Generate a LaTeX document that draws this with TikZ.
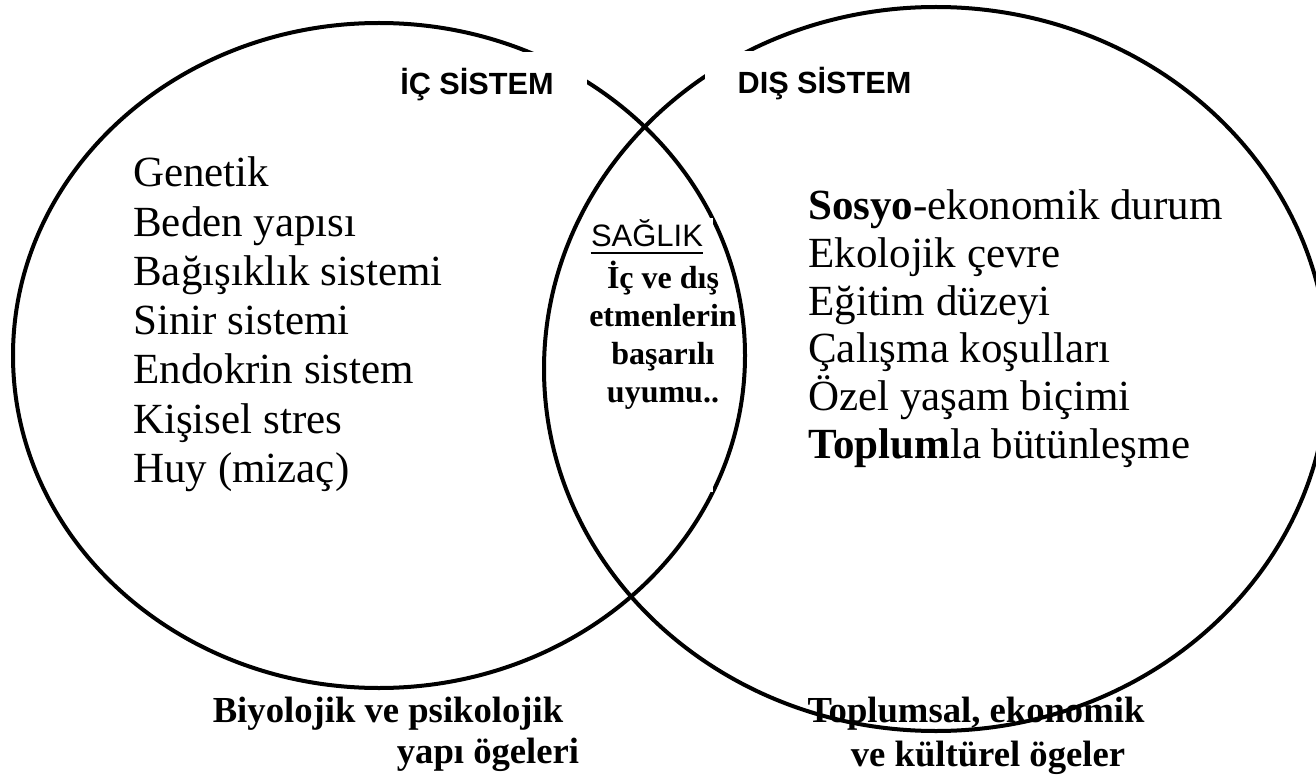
\documentclass[tikz,border=0pt]{standalone}
\usepackage{fontspec}
\setmainfont{Liberation Serif}
\setsansfont{Liberation Sans}
\usepackage{tikz}
\usetikzlibrary{calc}
\tikzset{
	venn line/.style={line width=3pt}
}
\tikzstyle{header}=[font=\sffamily\bfseries\fontsize{23}{23}\selectfont, fill=white, inner sep=0pt, minimum height=49.5pt]
\tikzstyle{itemtext}=[font=\fontsize{32.25}{32.25}\selectfont, inner sep=0pt, anchor=base west]
\tikzstyle{midtext}=[font=\bfseries\fontsize{24}{24}\selectfont, inner sep=0pt, anchor=base]
\tikzstyle{foottext}=[font=\bfseries\fontsize{27.5}{27.5}\selectfont, inner sep=0pt, anchor=base]

\begin{document}
\begin{tikzpicture}[x=0.75pt, y=-0.75pt]
	\useasboundingbox (0,0) rectangle (1316,777);
	% the two systems
	\draw[venn line] (379,355.5) ellipse (366 and 332.5);
	\draw[venn line] (936,369) ellipse (392 and 362);
	\fill[white] (582,218) rectangle (713,492);
	\node[header, minimum width=165pt] (ic) at (477,85) {İÇ SİSTEM};
	\node[header, minimum width=179.25pt] (dis) at (824.5,84) {DIŞ SİSTEM};
	% inner factors
	\foreach \txt [count=\i] in {Genetik, {Beden yapısı}, {Bağışıklık sistemi}, {Sinir sistemi}, {Endokrin sistem}, {Kişisel stres}, {Huy (mizaç)}}
		\node[itemtext] (icitem\i) at (133, {187+49.2*(\i-1)}) {\txt};
	% outer factors
	\foreach \txt [count=\i] in {{\textbf{Sosyo}-ekonomik durum}, {Ekolojik çevre}, {Eğitim düzeyi}, {Çalışma koşulları}, {Özel yaşam biçimi}, {\textbf{Toplum}la bütünleşme}}
		\node[itemtext] (disitem\i) at (808, {220+47.6*(\i-1)}) {\txt};
	% health
	\node[font=\sffamily\fontsize{23.25}{23.25}\selectfont, inner sep=0pt, anchor=base] (saglik) at (647,247) {SAĞLIK};
	\draw[line width=1.5pt] ($(saglik.base west)+(0,6)$) -- ($(saglik.base east)+(0,6)$);
	\foreach \txt [count=\i] in {{İç ve dış}, {etmenlerin}, {başarılı}, {uyumu..}}
		\node[midtext] (uyum\i) at (663, {288+38*(\i-1)}) {\txt};
	% captions
	\node[foottext] (biyo1) at (388,722) {Biyolojik ve psikolojik};
	\node[foottext] (biyo2) at (488,763) {yapı ögeleri};
	\node[foottext] (toplum1) at (976,722) {Toplumsal, ekonomik};
	\node[foottext] (toplum2) at (988,766) {ve kültürel ögeler};
\end{tikzpicture}
\end{document}
